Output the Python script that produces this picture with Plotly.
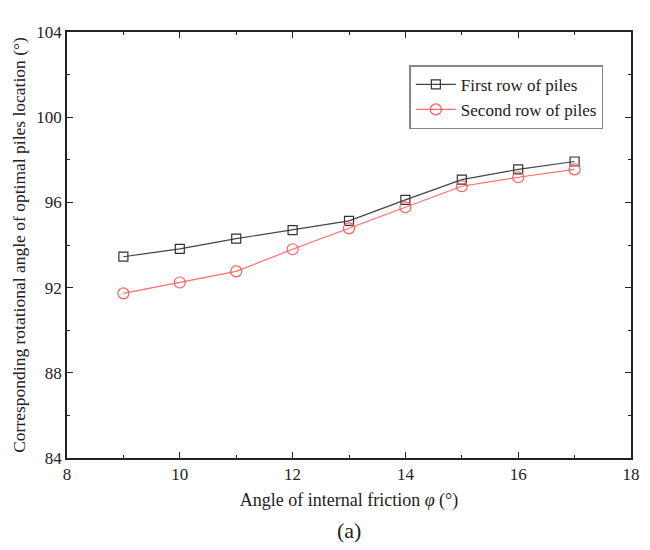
import plotly.graph_objects as go

phi = [9, 10, 11, 12, 13, 14, 15, 16, 17]
first_row = [93.45, 93.82, 94.30, 94.70, 95.13, 96.12, 97.07, 97.55, 97.92]
second_row = [91.73, 92.24, 92.76, 93.80, 94.78, 95.77, 96.76, 97.18, 97.55]

font_family = "Liberation Serif"

fig = go.Figure()
fig.add_trace(go.Scatter(
    x=phi, y=first_row, mode="lines+markers", name="First row of piles",
    line=dict(color="#444444", width=1.2),
    marker=dict(symbol="square-open", size=9, color="#333333", line=dict(width=1.2)),
))
fig.add_trace(go.Scatter(
    x=phi, y=second_row, mode="lines+markers", name="Second row of piles",
    line=dict(color="#ff6b6b", width=1.2),
    marker=dict(symbol="circle-open", size=11, color="#ff5c5c", line=dict(width=1.2)),
))

axis_common = dict(
    showgrid=False, zeroline=False, showline=True, linecolor="#222222", linewidth=1.5,
    mirror="allticks", ticks="inside", ticklen=6, tickwidth=1.3, tickcolor="#222222",
    tickfont=dict(family=font_family, size=17, color="#222222"),
)

fig.update_xaxes(
    range=[8, 18], dtick=2, tick0=8,
    minor=dict(dtick=1, ticks="inside", ticklen=3, tickwidth=1.2, tickcolor="#222222"),
    title=dict(text="Angle of internal friction <i>φ</i> (°)", font=dict(family=font_family, size=18, color="#222222"), standoff=10),
    **axis_common,
)
fig.update_yaxes(
    range=[84, 104], dtick=4, tick0=84,
    minor=dict(dtick=2, ticks="inside", ticklen=3, tickwidth=1.2, tickcolor="#222222"),
    title=dict(text="Corresponding rotational angle of optimal piles location (°)", font=dict(family=font_family, size=17.5, color="#222222"), standoff=6),
    **axis_common,
)

fig.add_annotation(
    text="(a)", xref="paper", yref="paper", x=0.5, y=-0.17, xanchor="center", yanchor="middle",
    showarrow=False, font=dict(family=font_family, size=22, color="#222222"),
)

fig.update_layout(
    width=650, height=550,
    margin=dict(l=67, r=10, t=32, b=92),
    plot_bgcolor="white", paper_bgcolor="white",
    font=dict(family=font_family, color="#222222"),
    legend=dict(
        x=0.607, y=0.922, xanchor="left", yanchor="top",
        bordercolor="#888888", borderwidth=1.5, bgcolor="white",
        font=dict(family=font_family, size=17, color="#222222"),
        tracegroupgap=0, itemwidth=40,
    ),
)

fig.write_html("out.html")
